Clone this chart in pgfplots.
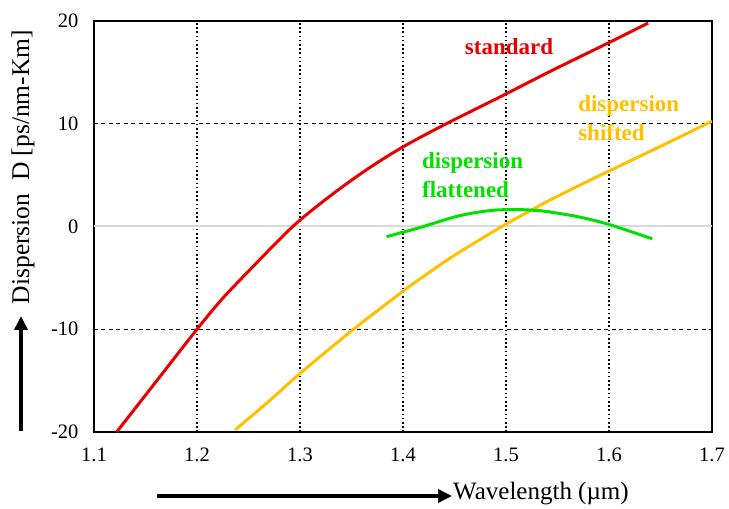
\documentclass[border=0pt]{standalone}
\usepackage{fontspec}
\setmainfont{Liberation Serif}
\usepackage{pgfplots}
\pgfplotsset{compat=1.18}
\usetikzlibrary{arrows.meta}
\definecolor{cred}{RGB}{232,0,0}
\definecolor{cgold}{RGB}{255,192,0}
\definecolor{cgreen}{RGB}{0,225,0}
\begin{document}
\begin{tikzpicture}[x=1pt,y=1pt]
\path[use as bounding box] (-94,-77) rectangle (635,432);
\begin{axis}[at={(0,0)}, anchor=south west, scale only axis,
  width=618pt, height=411pt,
  xmin=1.1, xmax=1.7, ymin=-20, ymax=20,
  xtick={1.1,1.2,1.3,1.4,1.5,1.6,1.7},
  xticklabels={1.1,1.2,1.3,1.4,1.5,1.6,1.7},
  ytick={-20,-10,10,20},
  yticklabels={-20,-10,10,20},
  extra y ticks={0}, extra y tick labels={0},
  extra y tick style={y grid style={solid, draw=black!15, line width=2pt}},
  major tick length=0pt,
  xmajorgrids, ymajorgrids,
  x grid style={black, line width=1.4pt, dash pattern=on 1.6pt off 2.6pt},
  y grid style={black, line width=1.3pt, dash pattern=on 4pt off 3.5pt},
  axis line style={black, line width=1.4pt},
  tick label style={font=\fontsize{20.5}{24}\selectfont},
  xticklabel style={yshift=-12pt},
  yticklabel style={xshift=-12pt},
]
\addplot[cred, line width=3pt, smooth, tension=0.5] coordinates {
(1.122,-20) (1.154,-15.9) (1.2,-10) (1.224,-7.1) (1.25,-4.35) (1.293,0)
(1.329,2.95) (1.365,5.55) (1.4,7.75) (1.442,10) (1.494,12.6) (1.543,15.1)
(1.6,17.9) (1.638,19.8)};
\addplot[cgold, line width=3pt, smooth, tension=0.5] coordinates {
(1.237,-19.8) (1.271,-16.9) (1.3,-14.3) (1.352,-10) (1.4,-6.3) (1.4165,-5.1)
(1.45,-2.8) (1.496,0) (1.523,1.5) (1.549,2.9) (1.6,5.4) (1.65,7.8) (1.7,10.25)};
\addplot[cgreen, line width=3pt, smooth, tension=0.5] coordinates {
(1.384,-1.0) (1.4,-0.55) (1.4165,-0.1) (1.449,0.9) (1.47,1.35) (1.49,1.6)
(1.51,1.65) (1.527,1.58) (1.54,1.45) (1.57,0.95) (1.6,0.2) (1.642,-1.2)};
\node[text=cred, font=\bfseries\fontsize{23}{28}\selectfont] at (axis cs:1.503,17.5) {standard};
\node[text=cgold, font=\bfseries\fontsize{23}{29}\selectfont, align=left, anchor=west, inner sep=0pt] at (axis cs:1.570,10.5) {dispersion\\shifted};
\node[text=cgreen, font=\bfseries\fontsize{23}{29}\selectfont, align=left, anchor=west, inner sep=0pt] at (axis cs:1.4184,4.97) {dispersion\\flattened};
\end{axis}
\node[rotate=90, font=\fontsize{25.5}{30}\selectfont] at (-71,265) {Dispersion\ \ D [ps/nm-Km]};
\draw[line width=3.5pt, -{Triangle[length=14pt,width=13pt]}] (-73,1) -- (-73,116);
\draw[line width=3.5pt, -{Triangle[length=14pt,width=13pt]}] (63,-64) -- (358,-64);
\node[anchor=west, font=\fontsize{25}{29}\selectfont, inner sep=0pt] at (359,-62) {Wavelength (µm)};
\end{tikzpicture}
\end{document}
